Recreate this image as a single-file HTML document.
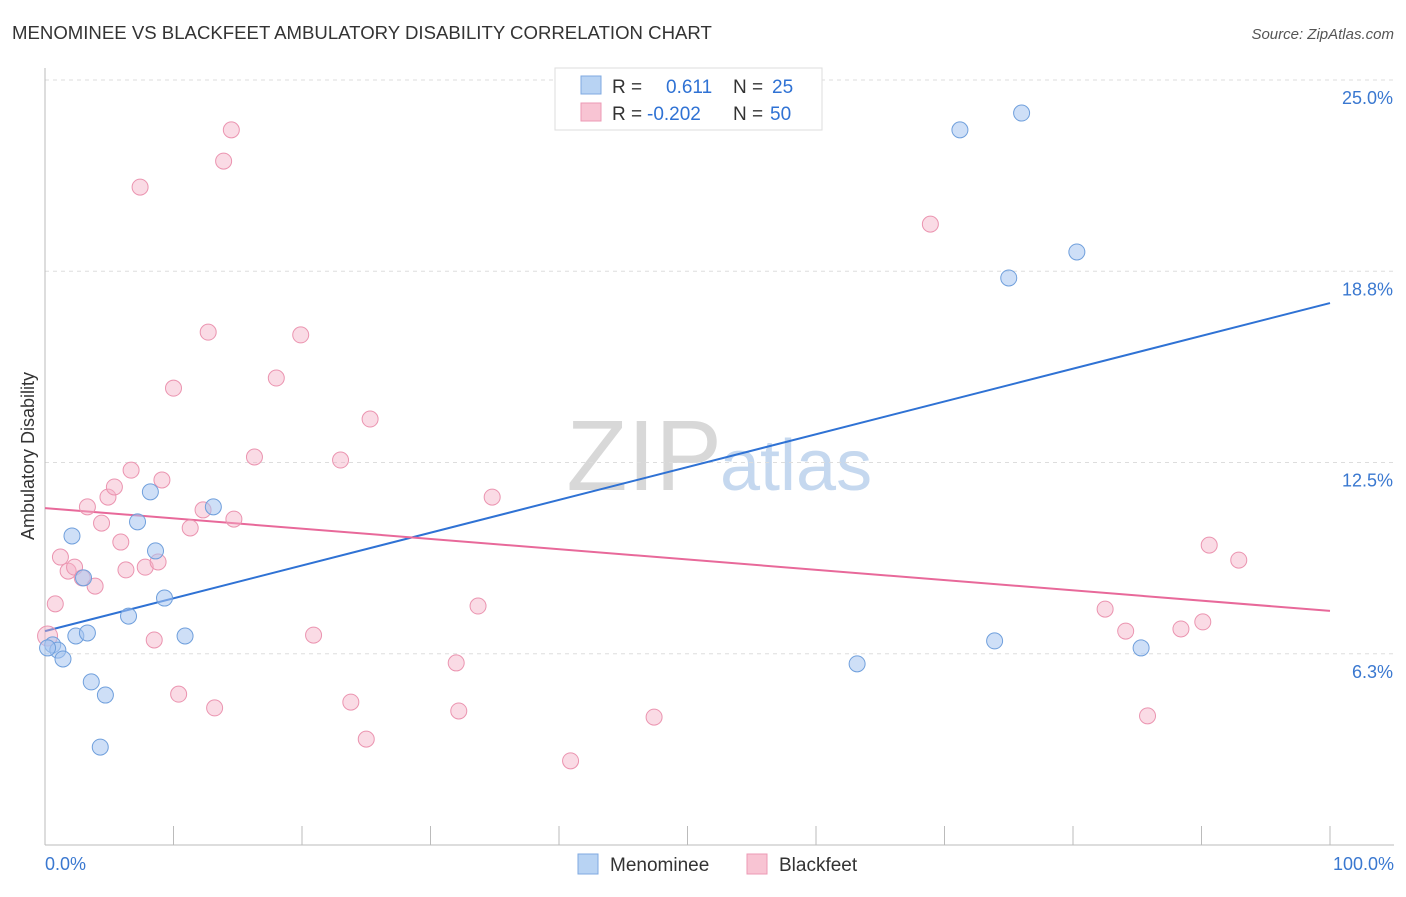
<!DOCTYPE html>
<html><head><meta charset="utf-8"><style>
body{margin:0;background:#fff;font-family:"Liberation Sans",sans-serif;}
svg text{font-family:"Liberation Sans",sans-serif;}
</style></head><body>
<svg id="chart" width="1406" height="892" xmlns="http://www.w3.org/2000/svg">
<text x="12" y="39" font-size="18.6" fill="#333">MENOMINEE VS BLACKFEET AMBULATORY DISABILITY CORRELATION CHART</text>
<text x="1394" y="39" font-size="15" fill="#555" font-style="italic" text-anchor="end">Source: ZipAtlas.com</text>
<text x="722" y="490" font-size="100" fill="#d8d8d8" text-anchor="end" font-family="Liberation Serif">ZIP</text>
<text x="720" y="490" font-size="72" fill="#c5d8ef">atlas</text>
<text x="34" y="456" font-size="18" fill="#333" text-anchor="middle" transform="rotate(-90 34 456)">Ambulatory Disability</text>
<g id="grid"></g><g id="axes"></g><g id="trends"></g><g id="points"></g>
<g>
<rect x="555" y="68" width="267" height="62" fill="#fff" stroke="#ddd"/>
<rect x="581" y="76" width="20" height="18" fill="#b8d3f3" stroke="#7fa9e0"/>
<rect x="581" y="103" width="20" height="18" fill="#f8c4d3" stroke="#ec9ab4"/>
<text x="612" y="93" font-size="19" fill="#333">R = </text><text x="666" y="93" font-size="19" fill="#2f72d4">0.611</text>
<text x="733" y="93" font-size="19" fill="#333">N = </text><text x="772" y="93" font-size="19" fill="#2f72d4">25</text>
<text x="612" y="120" font-size="19" fill="#333">R = </text><text x="647" y="120" font-size="19" fill="#2f72d4">-0.202</text>
<text x="733" y="120" font-size="19" fill="#333">N = </text><text x="770" y="120" font-size="19" fill="#2f72d4">50</text>
</g>
<g>
<rect x="578" y="854" width="20" height="20" fill="#b8d3f3" stroke="#7fa9e0"/>
<text x="610" y="871" font-size="19" fill="#333">Menominee</text>
<rect x="747" y="854" width="20" height="20" fill="#f8c4d3" stroke="#ec9ab4"/>
<text x="779" y="871" font-size="19" fill="#333">Blackfeet</text>
</g>
<text x="45" y="870" font-size="18" fill="#3a78d0">0.0%</text>
<text x="1394" y="870" font-size="18" fill="#3a78d0" text-anchor="end">100.0%</text>
</svg>
<script>
const yTicks=[25.0,18.75,12.5,6.25];
const yTickLabels=["25.0%","18.8%","12.5%","6.3%"];
const xTicks=[0,10,20,30,40,50,60,70,80,90,100];
const menomineeX=[0.6,1.0,1.4,2.1,2.4,3.0,3.3,3.6,4.3,4.7,6.5,7.2,8.2,8.6,9.3,10.9,13.1,63.2,71.2,73.9,75.0,76.0,80.3,85.3,0.2];
const menomineeY=[6.54,6.37,6.08,10.10,6.83,8.73,6.93,5.33,3.20,4.90,7.48,10.56,11.54,9.61,8.07,6.83,11.05,5.92,23.37,6.67,18.53,23.92,19.38,6.44,6.44];
const blackfeetX=[0.2,0.8,1.2,1.8,2.3,2.9,3.3,3.9,4.4,4.9,5.4,5.9,6.3,6.7,7.4,7.8,8.5,8.8,9.1,10.0,10.4,11.3,12.3,12.7,13.2,13.9,14.5,14.7,16.3,18.0,19.9,20.9,23.0,23.8,25.0,25.3,32.0,32.2,33.7,34.8,40.9,47.4,68.9,82.5,84.1,85.8,88.4,90.1,90.6,92.9];
const blackfeetY=[6.83,7.88,9.41,8.95,9.08,8.73,11.05,8.46,10.52,11.37,11.70,9.90,8.99,12.25,21.50,9.08,6.70,9.25,11.93,14.93,4.93,10.36,10.95,16.76,4.48,22.35,23.37,10.65,12.68,15.26,16.67,6.86,12.58,4.67,3.46,13.92,5.95,4.38,7.81,11.37,2.75,4.18,20.29,7.71,6.99,4.22,7.06,7.29,9.80,9.31];
const menomineeTrend=[6.99,17.71];
const blackfeetTrend=[11.01,7.65];
const NS="http://www.w3.org/2000/svg";
const X=v=>45+v*12.85, Y=v=>80+(25-v)*30.6;
function mk(t,a,p){const e=document.createElementNS(NS,t);for(const k in a)e.setAttribute(k,a[k]);p.appendChild(e);return e;}
const grid=document.getElementById('grid'),axes=document.getElementById('axes'),tr=document.getElementById('trends'),pts=document.getElementById('points');
yTicks.forEach((v,i)=>{
 const l=mk('line',{x1:45,x2:1394,y1:Y(v),y2:Y(v),stroke:'#ddd','stroke-dasharray':'4 4'},grid);
 
 
 const t=mk('text',{x:1393,y:Y(v)+24,'font-size':18,fill:'#3a78d0','text-anchor':'end'},grid);
 t.textContent=yTickLabels[i];
 
 
});
const ax=mk('line',{x1:45,x2:45,y1:68,y2:845,stroke:'#bbb'},axes);


const bx=mk('line',{x1:45,x2:1394,y1:845,y2:845,stroke:'#bbb'},axes);


xTicks.forEach(v=>{
 const t=mk('line',{x1:X(v),x2:X(v),y1:826,y2:845,stroke:'#bbb'},axes);
 
 
});
const l1=mk('line',{x1:X(0),x2:X(100),y1:Y(menomineeTrend[0]),y2:Y(menomineeTrend[1]),stroke:'#2f72d4','stroke-width':2},tr);


const l2=mk('line',{x1:X(0),x2:X(100),y1:Y(blackfeetTrend[0]),y2:Y(blackfeetTrend[1]),stroke:'#e8699a','stroke-width':2},tr);


blackfeetX.forEach((x,i)=>{
 const c=mk('circle',{cx:X(x),cy:Y(blackfeetY[i]),r:i==0?10:8,fill:'rgba(245,175,198,0.45)',stroke:'#eb94b0','stroke-width':1},pts);
 
 
});
menomineeX.forEach((x,i)=>{
 const c=mk('circle',{cx:X(x),cy:Y(menomineeY[i]),r:8,fill:'rgba(165,197,240,0.55)',stroke:'#6f9fdc','stroke-width':1},pts);
 
 
});
</script>
</body></html>
